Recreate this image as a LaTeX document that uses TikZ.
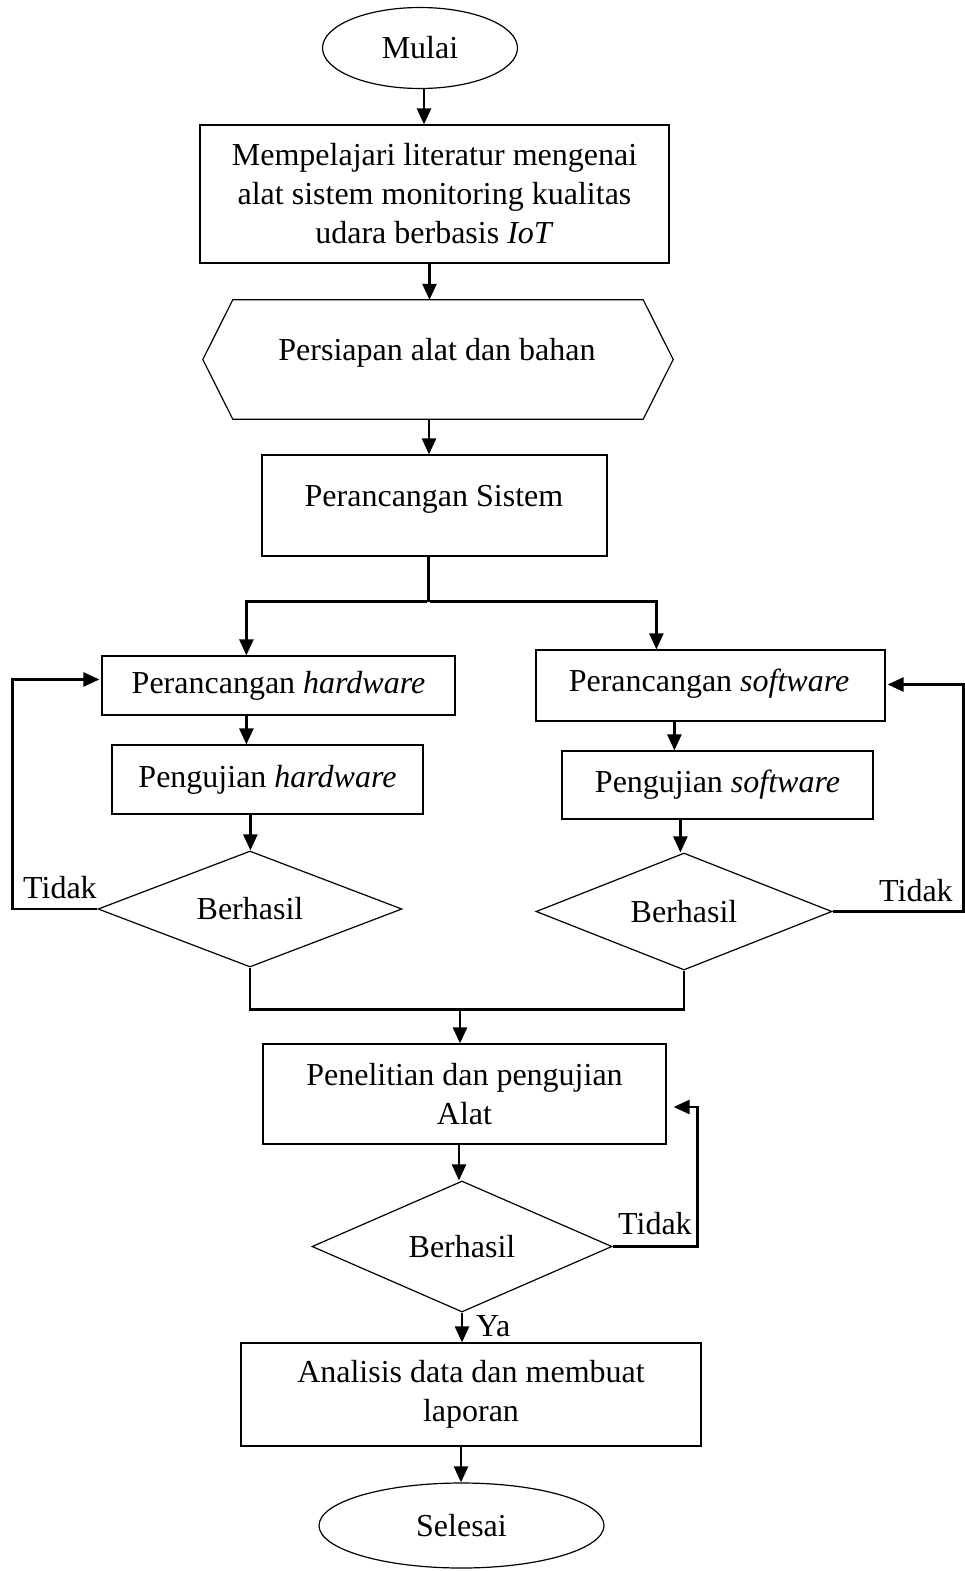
\documentclass[tikz,border=0pt]{standalone}
\usepackage{fontspec}
\setmainfont{Liberation Serif}
\usetikzlibrary{shapes.geometric,arrows.meta,calc}
\begin{document}
\begin{tikzpicture}[x=1pt,y=-1pt,
  every node/.style={font=\fontsize{32}{39}\selectfont},
  box/.style={draw,line width=1.2pt,rectangle,inner sep=0pt,align=center},
  term/.style={draw,line width=1.2pt,ellipse,inner sep=0pt},
  decide/.style={draw,line width=1.2pt,diamond,inner sep=0pt},
  conn/.style={line width=2.5pt},
  arrow/.style={line width=2.5pt,-{Triangle[length=16pt,width=14pt]}},
  lbl/.style={inner sep=0pt}]
\useasboundingbox (0,0) rectangle (965,1571);

% process shapes
\node[term,minimum width=195,minimum height=81] (start) at (420,48) {Mulai};
\node[box,minimum width=469,minimum height=138] (lit) at (434.5,194)
  {Mempelajari literatur mengenai\\alat sistem monitoring kualitas\\udara berbasis \textit{IoT}};
\node[minimum width=470,minimum height=119,inner sep=0pt] (prep) at (438,359.5) {};
\draw[line width=1.2pt] (prep.west) -- ($(prep.north west)+(30,0)$) -- ($(prep.north east)+(-30,0)$)
  -- (prep.east) -- ($(prep.south east)+(-30,0)$) -- ($(prep.south west)+(30,0)$) -- cycle;
\node at (437,353) {Persiapan alat dan bahan};
\node[box,minimum width=345,minimum height=101] (sys) at (434.5,505.5) {};
\node at (434,499) {Perancangan Sistem};

\node[box,minimum width=353,minimum height=59] (hw) at (278.5,685.5) {Perancangan \textit{hardware}};
\node[box,minimum width=311,minimum height=69] (ph) at (267.5,779.5) {Pengujian \textit{hardware}};
\node[decide,minimum width=304,minimum height=116,aspect=2.62] (dh) at (250,909) {Berhasil};

\node[box,minimum width=349,minimum height=71] (sw) at (710.5,685.5) {};
\node at (709,684) {Perancangan \textit{software}};
\node[box,minimum width=311,minimum height=68] (ps) at (717.5,785) {Pengujian \textit{software}};
\node[decide,minimum width=296,minimum height=117,aspect=2.53] (dsw) at (684,911.5) {Berhasil};

\node[box,minimum width=403,minimum height=100] (pen) at (464.5,1094) {Penelitian dan pengujian\\Alat};
\node[decide,minimum width=300,minimum height=131,aspect=2.29] (dp) at (462,1246.5) {Berhasil};
\node[box,minimum width=460,minimum height=103] (an) at (471,1394.5) {Analisis data dan membuat\\laporan};
\node[term,minimum width=285,minimum height=85] (end) at (461.5,1525.5) {Selesai};

% main flow
\draw[arrow] ($(start.south)+(4,0)$) coordinate (a1) -- (a1 |- lit.north);
\draw[arrow] ($(lit.south)+(-5,0)$) coordinate (a2) -- (a2 |- prep.north);
\draw[arrow] ($(prep.south)+(-9,0)$) coordinate (a3) -- (a3 |- sys.north);
\draw[conn] ($(sys.south)+(-6,0)$) -- ++(0,45) coordinate (split);
\draw[arrow] ([xshift=-1.25pt]split) -| ($(hw.north west)+(145,0)$);
\draw[arrow] ([xshift=1.25pt]split) -| ($(sw.north west)+(121,0)$);

\draw[arrow] ($(hw.south west)+(145,0)$) coordinate (a4) -- (a4 |- ph.north);
\draw[arrow] ($(ph.south west)+(139,0)$) coordinate (a5) -- (a5 |- dh.north);
\draw[arrow] ($(sw.south west)+(139,0)$) coordinate (a6) -- (a6 |- ps.north);
\draw[arrow] ($(ps.south west)+(119,0)$) coordinate (a7) -- (a7 |- dsw.north);

% retry loops
\draw[arrow] (dh.west) -- ++(-85,0) |- ($(hw.west)+(-2,-6)$);
\node[lbl,anchor=south west] at (23,899) {Tidak};
\draw[arrow] (dsw.east) -- ++(131,0) |- ($(sw.east)+(2,-1)$);
\node[lbl,anchor=south west] at (879,902) {Tidak};

% merge into testing
\draw[conn] (dh.south) -- ++(0,42) -| (dsw.south);
\draw[arrow] ($(dh.south)+(210,42)$) coordinate (a8) -- (a8 |- pen.north);
\draw[arrow] ($(pen.south)+(-5.5,0)$) coordinate (a9) -- (a9 |- dp.north);
\draw[arrow] (dp.east) -- ++(85,0) |- ($(pen.east)+(7,13)$);
\node[lbl,anchor=south west] at (618,1235) {Tidak};
\draw[arrow] (dp.south) coordinate (a10) -- (a10 |- an.north);
\node[lbl,anchor=south west] at (476,1337) {Ya};
\draw[arrow] ($(an.south)+(-10,0)$) coordinate (a11) -- (a11 |- end.north);
\end{tikzpicture}
\end{document}
